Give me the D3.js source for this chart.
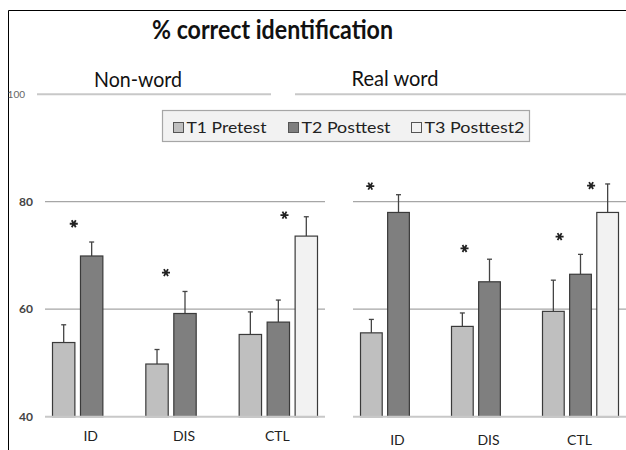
<!DOCTYPE html>
<html>
<head>
<meta charset="utf-8">
<script src="https://cdn.jsdelivr.net/npm/d3@7"></script>
<style>
  body { margin: 0; background: #fff; }
  text { font-family: Lato, "Open Sans", "Noto Sans", sans-serif; }
</style>
</head>
<body>
<svg id="chart"></svg>
<script>
var w = 626;
var h = 450;

// data
var categories = ["ID", "DIS", "CTL"];
var series = ["T1 Pretest", "T2 Posttest", "T3 Posttest2"];
var yTicks = [40, 60, 80, 100];

var nonWordMeans = [[53.8, 69.9, null], [49.8, 59.2, null], [55.3, 57.6, 73.6]];
var nonWordErr   = [[3.3, 2.6, null], [2.7, 4.1, null], [4.2, 4.1, 3.6]];
var realWordMeans = [[55.6, 78.0, null], [56.8, 65.1, null], [59.6, 66.5, 78.0]];
var realWordErr   = [[2.5, 3.3, null], [2.5, 4.2, null], [5.8, 3.7, 5.3]];

// asterisks: category, slot position (0 = T1 centre), value
var nonWordStars = [["ID", 0.36, 75.9], ["DIS", 0.32, 66.8], ["CTL", 1.22, 77.5]];
var realWordStars = [["ID", -0.04, 82.9], ["DIS", 0.08, 71.3], ["CTL", 0.23, 73.5], ["CTL", 1.39, 83.0]];

var colors = ["#bfbfbf", "#7f7f7f", "#f2f2f2"];

var svg = d3.select("#chart").attr("width", w).attr("height", h);

var y = d3.scaleLinear().domain([40, 100]).range([416.7, 94.2]);
var star = d3.symbol().type(d3.symbolAsterisk).size(45);

// frame
svg.append("path")
   .attr("d", "M8.5," + h + "V10.5H" + w)
   .attr("fill", "none")
   .attr("stroke", "#000")
   .attr("stroke-width", 1);

// title
svg.append("text")
   .attr("x", 272.5).attr("y", 39)
   .attr("text-anchor", "middle")
   .attr("font-size", 26).attr("font-weight", "bold")
   .attr("fill", "#111")
   .attr("textLength", 241).attr("lengthAdjust", "spacingAndGlyphs")
   .text("% correct identification");

// y labels
yTicks.forEach(function(t) {
    svg.append("text")
       .attr("x", t == 100 ? 25 : 33)
       .attr("y", y(t) + 4)
       .attr("text-anchor", "end")
       .attr("font-size", t == 100 ? 10 : 12)
       .attr("font-weight", t == 100 ? "normal" : "bold")
       .attr("fill", t == 100 ? "#666" : "#444")
       .text(t);
});

function drawPanel(x0, x1, means, errs, stars, title, titleX, labelY, topLine) {
    var g = svg.append("g");
    var x = d3.scaleBand().domain(categories).range([x0, x1]).padding(0);
    var bw = x.bandwidth();
    var xs = d3.scaleBand().domain(series).range([7.5, bw - 7.5]).paddingInner(0.2).paddingOuter(0);
    var step = xs.step();

    // 100 line
    g.append("line")
     .attr("x1", topLine[0]).attr("x2", topLine[1])
     .attr("y1", y(100)).attr("y2", y(100))
     .attr("stroke", "#c8c8c8").attr("stroke-width", 2);

    [60, 80].forEach(function(t) {
        g.append("line")
         .attr("x1", x0).attr("x2", x1)
         .attr("y1", y(t)).attr("y2", y(t))
         .attr("stroke", "#a6a6a6").attr("stroke-width", 1.2);
    });

    categories.forEach(function(c, ci) {
        series.forEach(function(s, si) {
            var v = means[ci][si];
            if (v == null) return;
            var bx = x(c) + xs(s);
            var cx = bx + xs.bandwidth() / 2;
            var top = y(v + errs[ci][si]);
            g.append("line")
             .attr("x1", cx).attr("x2", cx)
             .attr("y1", y(v)).attr("y2", top)
             .attr("stroke", "#444").attr("stroke-width", 1.3);
            g.append("line")
             .attr("x1", cx - 2.5).attr("x2", cx + 2.5)
             .attr("y1", top).attr("y2", top)
             .attr("stroke", "#444").attr("stroke-width", 1.3);
            g.append("rect")
             .attr("x", bx).attr("y", y(v))
             .attr("width", xs.bandwidth())
             .attr("height", y(40) - y(v))
             .attr("fill", colors[si])
             .attr("stroke", "#3a3a3a").attr("stroke-width", 1.2);
        });
        g.append("text")
         .attr("x", x(c) + xs(series[1]) + xs.bandwidth() / 2 - 1)
         .attr("y", labelY)
         .attr("text-anchor", "middle")
         .attr("font-size", 14)
         .attr("fill", "#222")
         .text(c);
    });

    // baseline
    g.append("line")
     .attr("x1", x0).attr("x2", x1)
     .attr("y1", y(40)).attr("y2", y(40))
     .attr("stroke", "#c8c8c8").attr("stroke-width", 2);

    stars.forEach(function(st) {
        var cx = x(st[0]) + xs(series[0]) + xs.bandwidth() / 2 + st[1] * step;
        g.append("path")
         .attr("transform", "translate(" + cx + "," + y(st[2]) + ") rotate(90)")
         .attr("d", star())
         .attr("fill", "none")
         .attr("stroke", "#222").attr("stroke-width", 1.8);
    });

    g.append("text")
     .attr("x", titleX).attr("y", topLine[2])
     .attr("text-anchor", "middle")
     .attr("font-size", 21)
     .attr("fill", "#111")
     .attr("textLength", topLine[3]).attr("lengthAdjust", "spacingAndGlyphs")
     .text(title);
}

drawPanel(45, 325, nonWordMeans, nonWordErr, nonWordStars, "Non-word", 138, 441, [37, 271, 87, 88]);
drawPanel(353, 626, realWordMeans, realWordErr, realWordStars, "Real word", 395, 445, [295, 626, 86, 87]);

// legend
var lg = svg.append("g");
lg.append("rect")
  .attr("x", 162.5).attr("y", 110.5)
  .attr("width", 367).attr("height", 31)
  .attr("fill", "#f2f2f2")
  .attr("stroke", "#a6a6a6").attr("stroke-width", 1.2);
var legendX = [173.5, 288.5, 411.5];
var legendW = [80, 89, 100];
series.forEach(function(s, i) {
    lg.append("rect")
      .attr("x", legendX[i]).attr("y", 122.5)
      .attr("width", 10).attr("height", 10)
      .attr("fill", colors[i])
      .attr("stroke", "#555").attr("stroke-width", 1);
    lg.append("text")
      .attr("x", legendX[i] + 13).attr("y", 132.5)
      .attr("font-size", 16)
      .attr("fill", "#222")
      .attr("textLength", legendW[i]).attr("lengthAdjust", "spacingAndGlyphs")
      .text(s);
});
</script>
</body>
</html>
